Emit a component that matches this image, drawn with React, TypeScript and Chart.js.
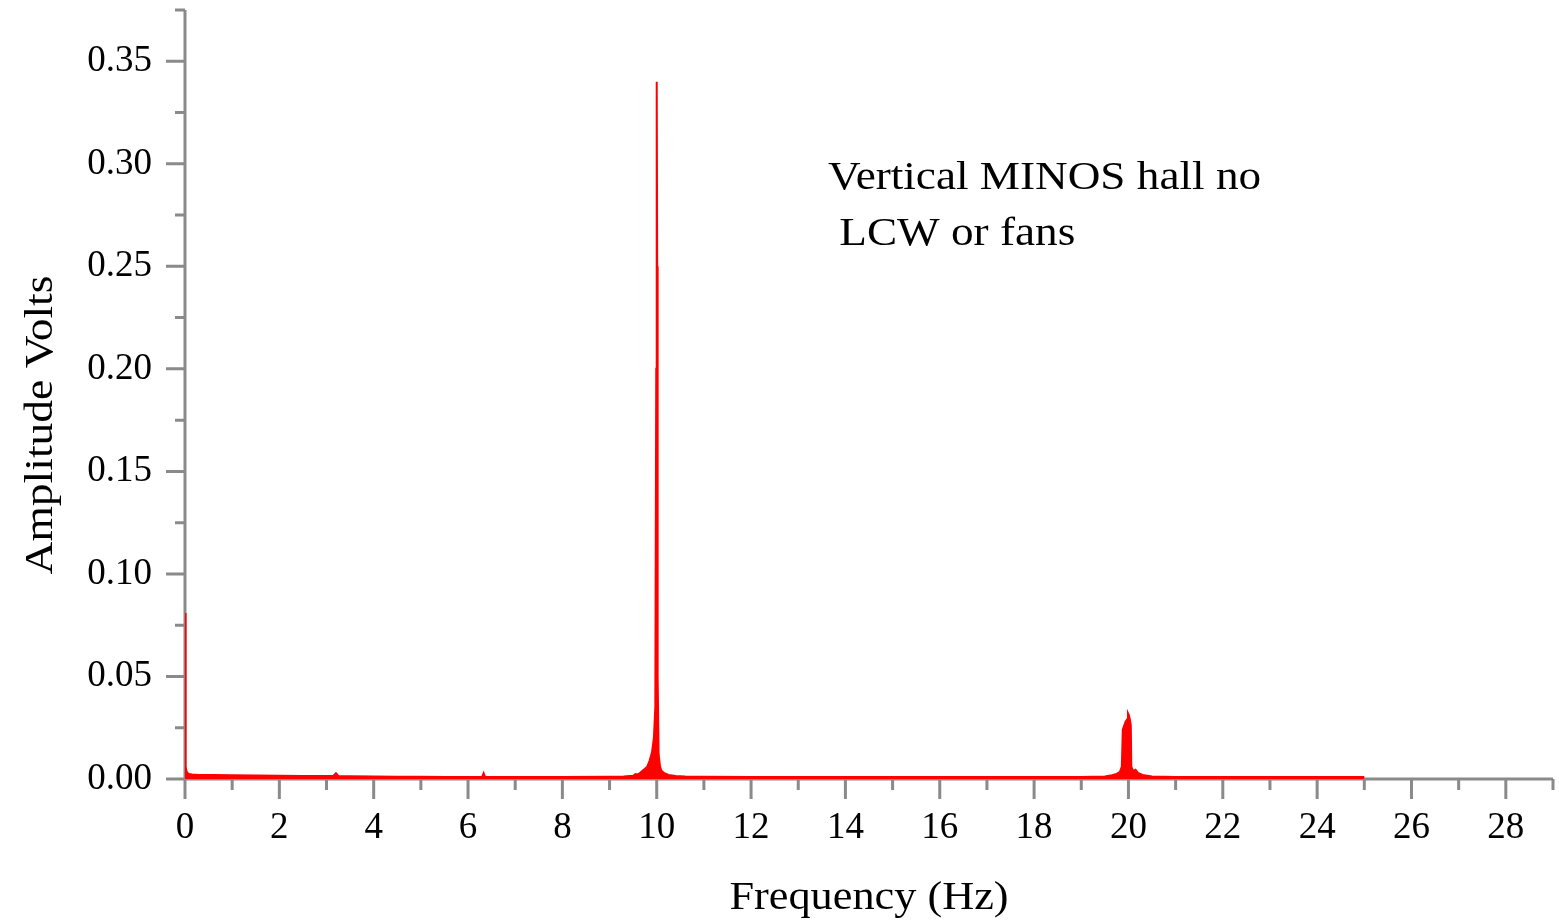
import React, { useEffect, useRef } from "react";
import { Chart, registerables } from "chart.js";

Chart.register(...registerables);

// Frequency (Hz) of each sample point
const freqHz: number[] = [
  0, 0.005, 0.01, 0.02, 0.03, 0.05, 0.08, 0.15, 0.3, 0.6, 1.0, 1.5, 2.0, 2.5, 3.0, 3.15, 3.2, 3.25, 3.5,
  4.0, 4.5, 5.0, 5.5, 6.0, 6.3, 6.33, 6.36, 7.0, 8.0, 9.0, 9.3, 9.5, 9.55, 9.6, 9.65, 9.7, 9.75, 9.8, 9.85,
  9.9, 9.94, 9.97, 9.99, 10.0, 10.01, 10.02, 10.04, 10.07, 10.1, 10.15, 10.25, 10.4, 10.6, 11.0, 12, 14, 16,
  18, 19, 19.5, 19.65, 19.75, 19.82, 19.86, 19.88, 19.91, 19.94, 19.97, 19.99, 20.01, 20.03, 20.05, 20.06,
  20.1, 20.15, 20.2, 20.3, 20.5, 21, 22, 24, 25,
];

// Amplitude (Volts) at each frequency above
const amplitudeV: number[] = [
  0.081, 0.03, 0.012, 0.006, 0.004, 0.003, 0.0025, 0.0022, 0.002, 0.0019, 0.0018, 0.0017, 0.0016, 0.0015,
  0.0015, 0.0016, 0.0028, 0.0015, 0.0014, 0.0012, 0.0011, 0.0011, 0.001, 0.001, 0.001, 0.0028, 0.001, 0.001,
  0.001, 0.0011, 0.0012, 0.0016, 0.0024, 0.0022, 0.003, 0.004, 0.005, 0.006, 0.009, 0.013, 0.02, 0.035, 0.2,
  0.34, 0.25, 0.05, 0.012, 0.006, 0.004, 0.003, 0.002, 0.0015, 0.0012, 0.0011, 0.001, 0.001, 0.001, 0.001,
  0.001, 0.0012, 0.0018, 0.0025, 0.0035, 0.006, 0.024, 0.026, 0.028, 0.029, 0.032, 0.031, 0.029, 0.026,
  0.006, 0.004, 0.0045, 0.003, 0.002, 0.0012, 0.001, 0.001, 0.001, 0.001,
];

const xMajorTicks: number[] = [0, 2, 4, 6, 8, 10, 12, 14, 16, 18, 20, 22, 24, 26, 28];
const xMinorTicks: number[] = [1, 3, 5, 7, 9, 11, 13, 15, 17, 19, 21, 23, 25, 27, 29];
const yMajorTicks: number[] = [0, 0.05, 0.1, 0.15, 0.2, 0.25, 0.3, 0.35];
const yMinorTicks: number[] = [0.025, 0.075, 0.125, 0.175, 0.225, 0.275, 0.325, 0.375];

const xTitle = "Frequency (Hz)";
const yTitle = "Amplitude Volts";
const noteLines: string[] = ["Vertical MINOS hall no", " LCW or fans"];

const SERIF = '"Liberation Serif", "Times New Roman", serif';
const AXIS_COLOR = "#8a8a8a";

const axesPlugin = {
  id: "customAxes",
  beforeDatasetsDraw(chart: any) {
    const { ctx, chartArea, scales } = chart;
    const xs = scales.x;
    const ys = scales.y;
    ctx.save();
    ctx.strokeStyle = AXIS_COLOR;
    ctx.lineWidth = 3;
    ctx.lineCap = "butt";
    ctx.beginPath();
    ctx.moveTo(chartArea.left, chartArea.bottom);
    ctx.lineTo(chartArea.right, chartArea.bottom);
    ctx.moveTo(chartArea.left, chartArea.bottom);
    ctx.lineTo(chartArea.left, chartArea.top);
    ctx.stroke();
    ctx.beginPath();
    for (const v of xMajorTicks) {
      const px = xs.getPixelForValue(v);
      ctx.moveTo(px, chartArea.bottom);
      ctx.lineTo(px, chartArea.bottom + 20);
    }
    for (const v of xMinorTicks) {
      const px = xs.getPixelForValue(v);
      ctx.moveTo(px, chartArea.bottom);
      ctx.lineTo(px, chartArea.bottom + 11);
    }
    for (const v of yMajorTicks) {
      const py = ys.getPixelForValue(v);
      ctx.moveTo(chartArea.left, py);
      ctx.lineTo(chartArea.left - 19, py);
    }
    for (const v of yMinorTicks) {
      const py = ys.getPixelForValue(v);
      ctx.moveTo(chartArea.left, py);
      ctx.lineTo(chartArea.left - 10, py);
    }
    ctx.stroke();
    ctx.restore();
  },
  afterDraw(chart: any) {
    const { ctx, chartArea } = chart;
    ctx.save();
    ctx.fillStyle = "#000";
    ctx.textBaseline = "alphabetic";
    ctx.font = `41px ${SERIF}`;
    ctx.textAlign = "center";
    ctx.save();
    ctx.translate((chartArea.left + chartArea.right) / 2, 909);
    ctx.scale(1.08, 1);
    ctx.fillText(xTitle, 0, 0);
    ctx.restore();
    ctx.save();
    ctx.translate(52, 425);
    ctx.rotate(-Math.PI / 2);
    ctx.scale(1.11, 1);
    ctx.fillText(yTitle, 0, 0);
    ctx.restore();
    ctx.font = `40px ${SERIF}`;
    ctx.textAlign = "left";
    const baselines = [189, 245];
    noteLines.forEach((line, i) => {
      ctx.save();
      ctx.translate(828, baselines[i]);
      ctx.scale(1.13, 1);
      ctx.fillText(line, 0, 0);
      ctx.restore();
    });
    ctx.restore();
  },
};

export default function App() {
  const canvasRef = useRef<HTMLCanvasElement | null>(null);

  useEffect(() => {
    document.body.style.margin = "0";
    const canvas = canvasRef.current;
    if (!canvas) return;
    const points = freqHz.map((f, i) => ({ x: f, y: amplitudeV[i] }));
    const chart = new Chart(canvas, {
      type: "line",
      data: {
        datasets: [
          {
            data: points,
            borderColor: "#ff0000",
            backgroundColor: "#ff0000",
            borderWidth: 2,
            pointRadius: 0,
            fill: "origin",
            tension: 0,
          },
        ],
      },
      options: {
        animation: false,
        responsive: false,
        devicePixelRatio: 1,
        layout: { padding: { left: 0, right: 6, top: 10, bottom: 0 } },
        plugins: {
          legend: { display: false },
          tooltip: { enabled: false },
        },
        scales: {
          x: {
            type: "linear",
            min: 0,
            max: 29,
            grid: { display: false, drawTicks: false },
            border: { display: false },
            afterBuildTicks: (scale: any) => {
              scale.ticks = xMajorTicks.map((v) => ({ value: v }));
            },
            afterFit: (scale: any) => {
              scale.height = 144;
              scale.paddingLeft = 0;
              scale.paddingRight = 0;
            },
            ticks: {
              padding: 27,
              color: "#000",
              maxRotation: 0,
              autoSkip: false,
              font: { family: SERIF, size: 37, lineHeight: 1.2 },
              callback: (v: any) => String(v),
            },
          },
          y: {
            type: "linear",
            min: 0,
            max: 0.375,
            grid: { display: false, drawTicks: false },
            border: { display: false },
            afterBuildTicks: (scale: any) => {
              scale.ticks = yMajorTicks.map((v) => ({ value: v }));
            },
            afterFit: (scale: any) => {
              scale.width = 185;
              scale.paddingTop = 0;
              scale.paddingBottom = 0;
            },
            ticks: {
              padding: 33,
              color: "#000",
              autoSkip: false,
              font: { family: SERIF, size: 37, lineHeight: 1.2 },
              callback: (v: any) => Number(v).toFixed(2),
            },
          },
        },
      },
      plugins: [axesPlugin],
    });
    return () => chart.destroy();
  }, []);

  return (
    <div style={{ position: "fixed", left: 0, top: 0, width: 1559, height: 923, background: "#fff" }}>
      <canvas ref={canvasRef} width={1559} height={923} style={{ display: "block", width: 1559, height: 923 }} />
    </div>
  );
}
